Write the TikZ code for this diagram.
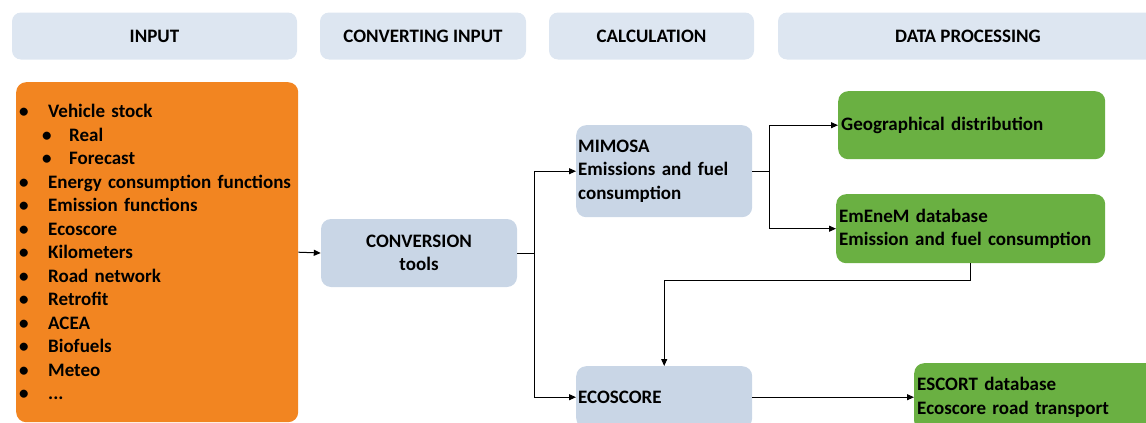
\documentclass[tikz,border=0pt]{standalone}
\usepackage{fontspec}
\setmainfont{Carlito}
\definecolor{headblue}{RGB}{221, 230, 241}
\definecolor{calcblue}{RGB}{201, 214, 230}
\definecolor{inorange}{RGB}{242, 133, 33}
\definecolor{outgreen}{RGB}{106, 176, 66}
\usetikzlibrary{arrows.meta, positioning, calc}

\newcommand{\itm}[1]{\makebox[29pt][l]{\textbullet}#1}
\newcommand{\subitm}[1]{\hspace*{23pt}\makebox[27pt][l]{\textbullet}#1}

\begin{document}
\begin{tikzpicture}[
  x=1pt, y=-1pt,
  font=\fontsize{19}{23.5}\selectfont\bfseries,
  header/.style={fill=headblue, rounded corners=9pt, minimum height=47pt, inner sep=0pt},
  calcbox/.style={fill=calcblue, rounded corners=10pt, inner xsep=2pt, inner ysep=0pt},
  outbox/.style={fill=outgreen, rounded corners=10pt, inner xsep=3pt, inner ysep=0pt, align=left},
  arr/.style={-{Triangle[length=7pt, width=6pt]}, line width=1pt}
]
  \useasboundingbox (0,0) rectangle (1146,423);
  \clip (0,0) rectangle (1146,423);

  % Column headers
  \node[header, minimum width=285pt] (hin) at (154.5,36) {INPUT};
  \node[header, minimum width=206pt] (hconv) at (423,36) {CONVERTING INPUT};
  \node[header, minimum width=205pt] (hcalc) at (651.5,36) {CALCULATION};
  \node[header, minimum width=380pt] (hdata) at (968,36) {DATA PROCESSING};

  % Input list
  \node[fill=inorange, rounded corners=10pt, anchor=north west, minimum height=340pt,
        text width=276pt, inner xsep=3pt, align=left] (input) at (16,82) {
    \itm{Vehicle stock}\\
    \subitm{Real}\\
    \subitm{Forecast}\\
    \itm{Energy consumption functions}\\
    \itm{Emission functions}\\
    \itm{Ecoscore}\\
    \itm{Kilometers}\\
    \itm{Road network}\\
    \itm{Retrofit}\\
    \itm{ACEA}\\
    \itm{Biofuels}\\
    \itm{Meteo}\\
    \itm{...}
  };

  % Conversion and calculation
  \node[calcbox, minimum width=196pt, minimum height=68pt, align=center] (conv) at (419,253) {CONVERSION\\tools};
  \node[calcbox, anchor=north west, minimum height=92pt, text width=172pt, align=left] (mimosa) at (576,125) {MIMOSA\\Emissions and fuel\\consumption};
  \node[calcbox, anchor=north west, minimum height=62pt, text width=172pt, align=left] (ecoscore) at (576,366) {ECOSCORE};

  % Data processing
  \node[outbox, anchor=north west, minimum height=68pt, text width=261pt] (geo) at (838,91) {Geographical distribution};
  \node[outbox, anchor=north west, minimum height=69pt, text width=263pt] (emenem) at (836,194) {EmEneM database\\Emission and fuel consumption};
  \node[outbox, anchor=north west, minimum height=68pt, text width=254pt] (escort) at (914,363) {ESCORT database\\Ecoscore road transport};

  % Connectors
  \draw[arr] (input.east) -- (conv.west);
  \draw[line width=1pt] (conv.east) -- ++(17,0) coordinate (split1);
  \draw[arr] (split1) |- (mimosa.west);
  \draw[arr] (split1) |- (ecoscore.west);
  \draw[line width=1pt] (mimosa.east) -- ++(17,0) coordinate (split2);
  \draw[arr] (split2) |- (geo.west);
  \draw[arr] (split2) |- (emenem.west);
  \draw[arr] (emenem.south) -- ++(0,17) -| (ecoscore.north);
  \draw[arr] (ecoscore.east) -- (escort.west);
\end{tikzpicture}
\end{document}
